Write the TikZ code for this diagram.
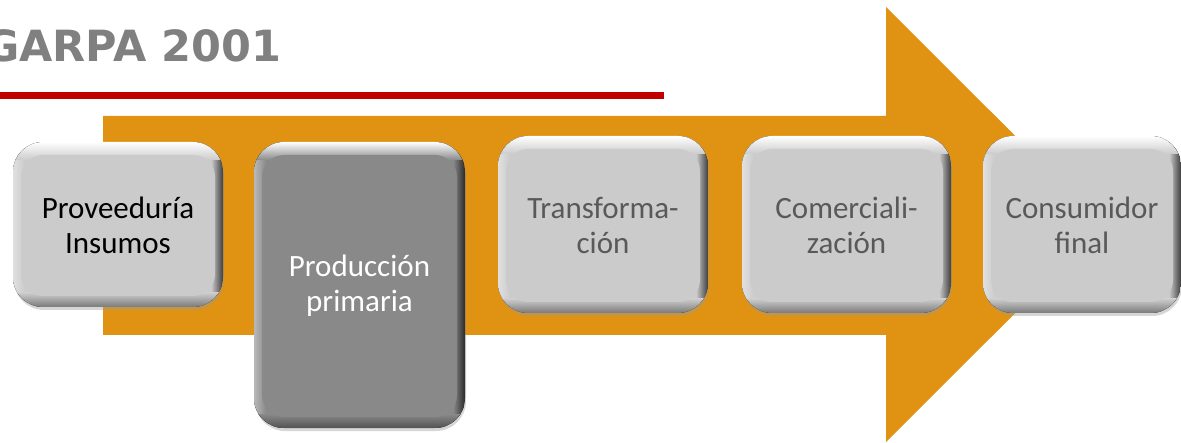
\documentclass[tikz,border=0pt]{standalone}
\usepackage{fontspec}
\setmainfont{Carlito}
\newfontfamily\titlefont{DejaVu Sans}
\definecolor{arroworange}{RGB}{224,147,18}
\definecolor{lightbox}{RGB}{203,203,203}
\definecolor{darkbox}{RGB}{137,137,137}
\definecolor{txtgray}{RGB}{89,89,89}
\definecolor{titlegray}{RGB}{128,128,128}
\definecolor{barred}{RGB}{192,0,0}
\newcommand\mybevel[8]{%
  \pgfmathsetmacro\bw{#4-#2-16}%
  \pgfmathsetmacro\bh{#5-#3-24}%
  \pgfmathsetmacro\bcx{(#2+#4)/2}%
  \pgfmathsetmacro\bcy{(#3+#5)/2-1}%
  \fill[black!40, opacity=0.4, rounded corners=30pt] (#2+1,#3-3) rectangle (#4+1,#5-2);
  \begin{scope}
    \clip[rounded corners=30pt] (#2,#3) rectangle (#4,#5);
    \fill[#6] (#2,#3) rectangle (#4,#5);
    \fill[left color=#6!60!white, right color=#6] (#2,#3) rectangle (#2+12,#5);
    \fill[left color=#6, right color=#6!30!black] (#4-12,#3) rectangle (#4,#5);
    \fill[top color=white, bottom color=#6] (#2,#5-18) rectangle (#4,#5);
    \fill[top color=#6, bottom color=#6!60!black] (#2,#3) rectangle (#4,#3+14);
  \end{scope}
  \node[boxtext, fill=#6, text=#7, minimum width=\bw pt, minimum height=\bh pt] (#1) at (\bcx,\bcy) {#8};
}
\tikzset{
  boxtext/.style={rounded corners=22pt, inner sep=0pt, align=center,
    font=\fontsize{31}{35}\selectfont},
}
\begin{document}
\begin{tikzpicture}[x=1pt,y=1pt]
\useasboundingbox (0,0) rectangle (1181,442);
\clip (0,0) rectangle (1181,442);
% title
\node[anchor=base west, inner sep=0pt, text=titlegray,
  font=\titlefont\bfseries\fontsize{43}{50}\selectfont] (title) at (-16,380) {GARPA 2001};
% red rule
\fill[barred] (0,343) rectangle (664,350);
% arrow
\fill[arroworange] (103,107) -- (886,107) -- (886,0) -- (1104,217.5) -- (886,435)
  -- (886,326) -- (103,326) -- cycle;
% boxes
\mybevel{b1}{13}{135}{223}{300}{lightbox}{black}{Proveeduría\\Insumos}
\mybevel{b2}{254}{14}{465}{300}{darkbox}{white}{Producción\\primaria}
\mybevel{b3}{498}{129}{708}{306}{lightbox}{txtgray}{Transforma-\\ción}
\mybevel{b4}{742}{129}{951}{306}{lightbox}{txtgray}{Comerciali-\\zación}
\mybevel{b5}{983}{129}{1181}{306}{lightbox}{txtgray}{Consumidor\\final}
\end{tikzpicture}
\end{document}
